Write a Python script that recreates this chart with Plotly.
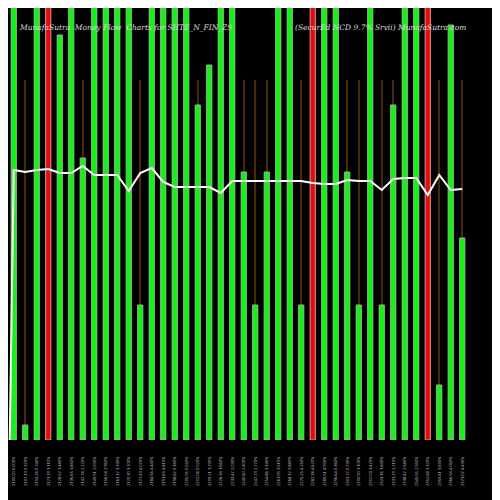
import plotly.graph_objects as go

colors_key = list("GGGRGGGGGGGGGGGGGGGGGGGGGGRGGGGGGGGGRGGG")
bar_vals = [500,15,500,500,405,500,282,500,500,500,500,135,500,500,500,500,335,375,500,500,
            268,135,268,500,500,135,500,500,500,268,135,500,135,335,500,500,500,55,415,202]
line_vals = [270,268,270,271,267,267,274,265,265,265,249,267,272,258,253,253,253,253,247,259,
             259,259,259,259,259,259,257,256,256,260,259,259,250,261,262,262,245,265,250,251]
labels = ["%d.%02d %.3f%%" % (2100 + i * 7, (i * 13) % 100, (i * 0.37) % 5) for i in range(40)]

n = len(bar_vals)
cmap = {"G": "#00ff00", "R": "#ff0000"}
fig = go.Figure()
fig.add_trace(go.Bar(x=list(range(n)), y=[360] * n, width=0.12, marker=dict(color="#4a2a00", line_width=0),
                     hoverinfo="skip"))
fig.add_trace(go.Bar(x=list(range(n)), y=bar_vals, width=0.45,
                     marker=dict(color=[cmap[c] for c in colors_key], line=dict(color="#aaaaaa", width=1))))
fig.add_trace(go.Scatter(x=[-0.35] + list(range(n)), y=[0] + line_vals, mode="lines",
                         line=dict(color="white", width=2)))
fig.update_layout(
    width=500, height=500, paper_bgcolor="black", plot_bgcolor="black", barmode="overlay",
    showlegend=False, margin=dict(l=0, r=40, t=0, b=68, autoexpand=False),
    xaxis=dict(range=[-0.5, n - 0.5], tickmode="array", tickvals=list(range(n)), ticktext=labels,
               tickangle=-90, tickfont=dict(size=4, color="#cccccc"), showgrid=False, zeroline=False,
               showline=False, ticks="outside", ticklen=14, tickcolor="black", automargin=False),
    yaxis=dict(range=[0, 432], visible=False),
    annotations=[
        dict(x=0.02, y=0.97, xref="paper", yref="paper", xanchor="left", showarrow=False,
             text="<i>MunafaSutra  Money Flow  Charts for SHTE_N_FIN_Z9</i>",
             font=dict(family="DejaVu Serif", size=7.5, color="#dddddd")),
        dict(x=0.62, y=0.97, xref="paper", yref="paper", xanchor="left", showarrow=False,
             text="<i>(SecurEd NCD 9.7% Srvii) MunafaSutra.com</i>",
             font=dict(family="DejaVu Serif", size=7.5, color="#dddddd")),
    ],
)
fig.write_html("out.html")
